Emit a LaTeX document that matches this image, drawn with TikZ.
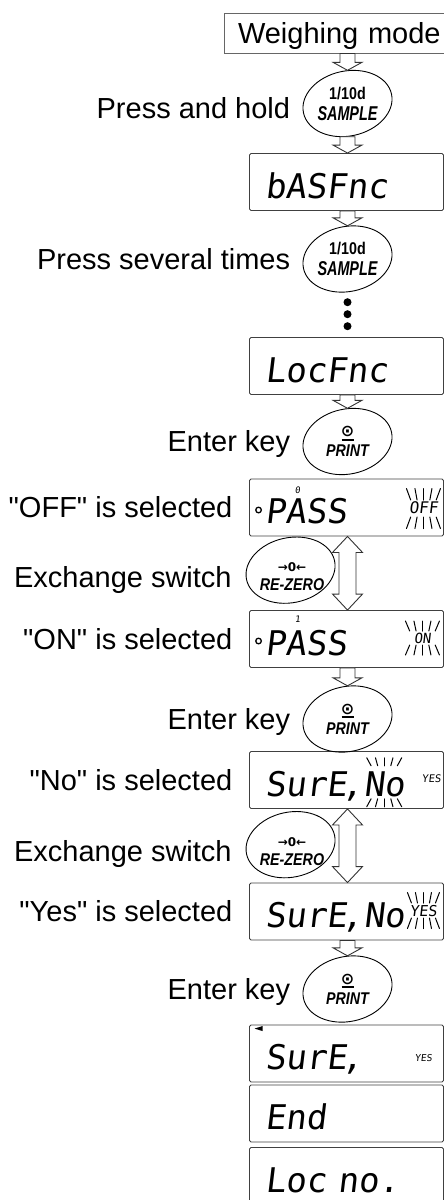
\documentclass[tikz,border=0pt]{standalone}
\usepackage{fontspec}
\setmainfont{Liberation Sans}[Ligatures=TeXOff]
\newfontfamily\keyfont{Liberation Sans}[FakeStretch=0.84]
\newfontfamily\keynarrow{Liberation Sans}[FakeStretch=0.72]
\newfontfamily\lcdfont{DejaVu Sans Mono}[FakeSlant=0.12]
\newfontfamily\symfont{DejaVu Sans}
\usetikzlibrary{calc,positioning,shapes.geometric}

\tikzset{
  modebox/.style={draw=black!60, line width=0.9pt, minimum height=40pt, text width=208pt,
    inner xsep=14pt, align=left, text height=20.5pt, text depth=0pt, font=\fontsize{29}{30}\selectfont},
  lcdbox/.style={draw=black!75, line width=0.9pt, rounded corners=1.5pt, minimum height=57pt,
    text width=163pt, inner xsep=15.5pt, inner ysep=4pt, align=left, text height=32pt, text depth=0pt,
    font=\lcdfont\fontsize{34}{34}\selectfont},
  lcdtext/.style={inner sep=0pt, text height=24.5pt, text depth=0pt, font=\lcdfont\fontsize{34}{34}\selectfont},
  lcdsmall/.style={inner sep=0pt, text height=11.5pt, text depth=0pt, font=\lcdfont\fontsize{16}{16}\selectfont},
  lcdtiny/.style={inner sep=0pt, text height=7.5pt, text depth=0pt, font=\lcdfont\fontsize{10.5}{11}\selectfont},
  keynode/.style={ellipse, minimum width=89pt, minimum height=66pt, inner sep=0pt, align=center,
    font=\keyfont\bfseries\fontsize{17}{21}\selectfont},
  lbl/.style={inner sep=0pt, text height=20.5pt, text depth=0pt, font=\fontsize{29}{30}\selectfont},
  hollow/.style={draw=black!80, fill=white, line width=0.9pt, line join=miter},
  ray/.style={line width=1pt, line cap=round},
  keyline/.style={line width=0.9pt}
}

\newcommand\keyoval[2][0]{\draw[keyline, rotate around={12:($(#2)+(0,#1)$)}]
  ($(#2)+(0,#1)$) ellipse [x radius=45, y radius=32.5];}
\newcommand\stepdown[2]{\draw[hollow] let \p1=(#1), \p2=(#2) in
  (\x1-7.5pt,\y1) -- (\x1-7.5pt,\y2+8pt) -- (\x1-14.5pt,\y2+8pt) -- (\x1,\y2)
  -- (\x1+14.5pt,\y2+8pt) -- (\x1+7.5pt,\y2+8pt) -- (\x1+7.5pt,\y1) -- cycle;}
\newcommand\stepboth[2]{\draw[hollow] let \p1=(#1), \p2=(#2) in
  (\x1,\y1) -- (\x1+15pt,\y1-16pt) -- (\x1+8.5pt,\y1-16pt) -- (\x1+8.5pt,\y2+16pt)
  -- (\x1+15pt,\y2+16pt) -- (\x1,\y2) -- (\x1-15pt,\y2+16pt) -- (\x1-8.5pt,\y2+16pt)
  -- (\x1-8.5pt,\y1-16pt) -- (\x1-15pt,\y1-16pt) -- cycle;}
% #1 centre, #2 gap above, #3 gap below, #4 length, #5 spread
\newcommand\flashrays[5]{\foreach \i in {-2,...,2}{
  \draw[ray] ($(#1)+({0.75*\i*#5},{-#2})$) -- ($(#1)+({\i*#5},{-#2-#4})$);
  \draw[ray] ($(#1)+({0.75*\i*#5},{#3})$) -- ($(#1)+({\i*#5},{#3+#4})$);}}
\newcommand\sure{SurE\kern-5pt,}
\newcommand\printkey{{\symfont\bfseries\fontsize{16}{16}\selectfont ⊙}\\[-17pt]\rule{12pt}{2pt}\\[-5pt]\itshape PRINT}
\newcommand\zerokey{{\symfont\bfseries\fontsize{12}{12}\selectfont →0←}\\[-2pt]\itshape RE-ZERO}
\newcommand\samplekey{1/10d\\{\keynarrow\itshape\fontsize{20}{21}\selectfont SAMPLE}}

\begin{document}
\begin{tikzpicture}[x=1pt,y=-1pt]
\useasboundingbox (0,0) rectangle (444,1200);
% boxes
\node[modebox] (weigh) at (342,33) {Weighing mode};
\node[lcdbox] (bas) at (346.5,182) {bASFnc};
\node[lcdbox] (loc) at (346.5,366) {LocFnc};
\node[lcdbox] (pass1) at (346.5,507.5) {PASS};
\node[lcdbox] (pass2) at (346.5,639) {PASS};
\node[lcdbox] (sure1) at (346.5,780) {\sure};
\node[lcdbox] (sure2) at (346.5,911.5) {\sure};
\node[lcdbox] (sure3) at (346.5,1053.5) {\sure};
\node[lcdbox] (endbox) at (346.5,1113.5) {End};
\node[lcdbox] (locno) at (346.5,1176) {Loc no.};

% keys
\node[keynode] (sample1) at (347.5,103.5) {\samplekey};
\node[keynode] (sample2) at (347.5,259) {\samplekey};
\node[keynode] (print1) at (347.5,441.5) {\printkey};
\node[keynode] (zero1) at (292,577) {\zerokey};
\node[keynode] (print2) at (347.5,719) {\printkey};
\node[keynode] (zero2) at (292,851.5) {\zerokey};
\node[keynode] (print3) at (347.5,989) {\printkey};
\keyoval{sample1} \keyoval{sample2} \keyoval{print1} \keyoval[-7]{zero1}
\keyoval{print2} \keyoval[-7]{zero2} \keyoval{print3}

% labels
\node[lbl, left=12.5pt of sample1, yshift=-4.5pt] (hold) {Press and hold};
\node[lbl, left=12.5pt of sample2] (several) {Press several times};
\node[lbl, left=12.5pt of print1] (enter1) {Enter key};
\node[lbl, left=16.5pt of pass1] (offsel) {"OFF" is selected};
\node[lbl, left=14.5pt of zero1] (exch1) {Exchange switch};
\node[lbl, left=16.5pt of pass2] (onsel) {"ON" is selected};
\node[lbl, left=12.5pt of print2] (enter2) {Enter key};
\node[lbl, left=16.5pt of sure1] (nosel) {"No" is selected};
\node[lbl, left=14.5pt of zero2] (exch2) {Exchange switch};
\node[lbl, left=16.5pt of sure2] (yessel) {"Yes" is selected};
\node[lbl, left=12.5pt of print3] (enter3) {Enter key};

% arrows
\stepdown{weigh.south -| sample1}{sample1.north}
\stepdown{sample1.south}{bas.north -| sample1}
\stepdown{bas.south -| sample2}{sample2.north}
\stepdown{loc.south -| print1}{print1.north}
\stepboth{pass1.south -| print1}{pass2.north -| print1}
\stepdown{pass2.south -| print2}{print2.north}
\stepboth{sure1.south -| print2}{sure2.north -| print2}
\stepdown{sure2.south -| print3}{print3.north}
\foreach \k in {10,22,34} \fill ($(sample2.south)+(0,\k)$) circle [radius=4];

% display details
\draw[line width=1.3pt] ($(pass1.west)+(9.5,2.5)$) circle [radius=2.8];
\node[lcdtiny, font=\lcdfont\fontsize{9}{9}\selectfont] (dot0) at ($(pass1.west)+(48.5,-17.5)$) {0};
\node[lcdsmall] (off) at ($(pass1.east)+(-20.5,0.5)$) {OFF};
\flashrays{off}{8}{9}{11.5}{8.5}
\draw[line width=1.3pt] ($(pass2.west)+(9.5,2)$) circle [radius=2.8];
\node[lcdtiny, font=\lcdfont\fontsize{9}{9}\selectfont] (dot1) at ($(pass2.west)+(48.5,-20)$) {1};
\node[lcdsmall, font=\lcdfont\fontsize{14}{14}\selectfont] (on) at ($(pass2.east)+(-21.5,-1)$) {ON};
\flashrays{on}{7}{7}{10}{8.5}
\node[lcdtext, anchor=base west] (no1) at ($(sure1.base west)+(114.5,0)$) {No};
\node[lcdtiny] (yes1) at ($(sure1.east)+(-12.5,-1)$) {YES};
\flashrays{no1}{18}{15}{8}{8.75}
\node[lcdtext, anchor=base west] (no2) at ($(sure2.base west)+(114.5,0)$) {No};
\node[lcdsmall, font=\lcdfont\fontsize{15}{15}\selectfont] (yes2) at ($(sure2.east)+(-20.5,-0.5)$) {YES};
\flashrays{yes2}{8}{7}{10.5}{8}
\fill ($(sure3.north west)+(5.5,4)$) -- ++(8,-2.5) -- ++(0,5) -- cycle;
\node[lcdtiny, font=\lcdfont\fontsize{9.5}{10}\selectfont] (yes3) at ($(sure3.east)+(-20.5,4)$) {YES};
\end{tikzpicture}
\end{document}
